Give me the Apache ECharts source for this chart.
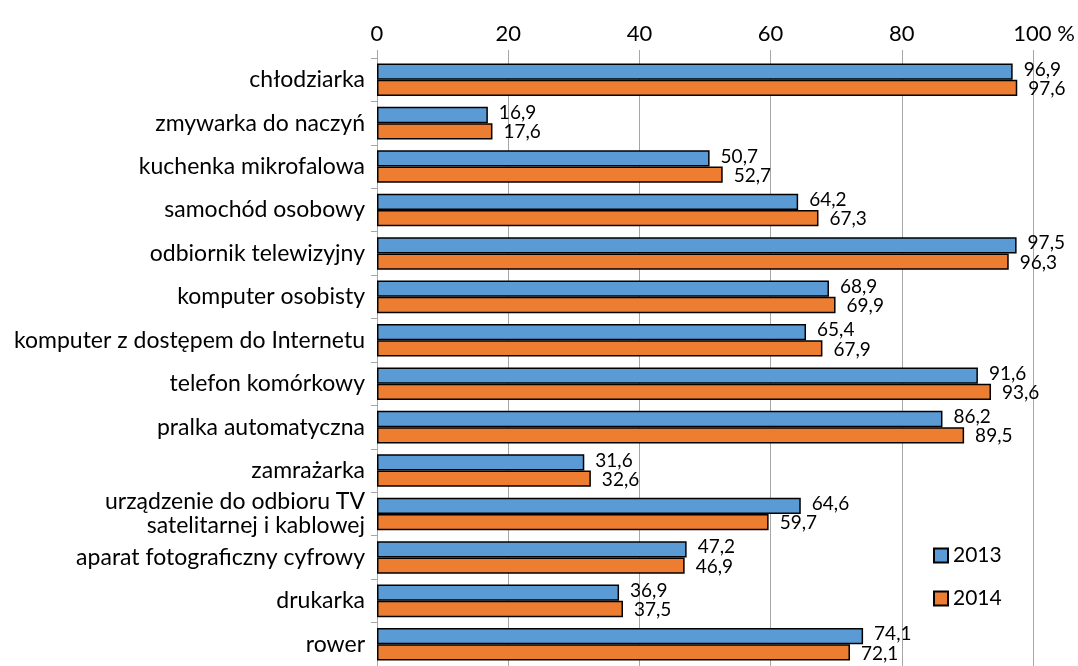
<!DOCTYPE html>
<html>
<head>
<meta charset="utf-8">
<script src="https://cdn.jsdelivr.net/npm/echarts@6/dist/echarts.min.js"></script>
<style>
	html, body {margin:0; padding:0; background:#fff;}
	#chart {width:1078px; height:666px;}
</style>
</head>
<body>
<div id="chart"></div>
<script>
// data
var categories = [
	'chłodziarka',
	'zmywarka do naczyń',
	'kuchenka mikrofalowa',
	'samochód osobowy',
	'odbiornik telewizyjny',
	'komputer osobisty',
	'komputer z dostępem do Internetu',
	'telefon komórkowy',
	'pralka automatyczna',
	'zamrażarka',
	'urządzenie do odbioru TV\nsatelitarnej i kablowej',
	'aparat fotograficzny cyfrowy',
	'drukarka',
	'rower'
];
var values2013 = [96.9, 16.9, 50.7, 64.2, 97.5, 68.9, 65.4, 91.6, 86.2, 31.6, 64.6, 47.2, 36.9, 74.1];
var values2014 = [97.6, 17.6, 52.7, 67.3, 96.3, 69.9, 67.9, 93.6, 89.5, 32.6, 59.7, 46.9, 37.5, 72.1];
var xTicks = [0, 20, 40, 60, 80, 100];

var font = 'Lato';
var fmt = function(p){ return p.value.toFixed(1).replace('.', ','); };

var chart = echarts.init(document.getElementById('chart'));

var barSeries = function(name, data, color, dy){
	return {
		name: name,
		type: 'bar',
		data: data,
		barGap: '0%',
		barCategoryGap: '25%',
		itemStyle: {color: color, borderColor: '#000', borderWidth: 1.5},
		label: {
			show: true,
			position: 'right',
			distance: 11,
			offset: [0, dy],
			color: '#000',
			fontFamily: font,
			fontSize: 19,
			formatter: fmt
		}
	};
};

var option = {
	animation: false,
	textStyle: {fontFamily: font},
	grid: {left: 377, top: 58, width: 656, height: 614, containLabel: false},
	legend: {
		orient: 'vertical',
		left: 928,
		top: 540,
		itemWidth: 14,
		itemHeight: 14,
		itemGap: 22,
		icon: 'rect',
		textStyle: {fontFamily: font, fontSize: 21, color: '#000'},
		data: ['2013', '2014']
	},
	xAxis: {
		type: 'value',
		position: 'top',
		min: 0,
		max: 100,
		interval: 20,
		axisLine: {show: false},
		axisTick: {show: true, length: 8, lineStyle: {color: '#a6a6a6'}},
		splitLine: {show: true, lineStyle: {color: '#a6a6a6', width: 1}},
		axisLabel: {
			margin: 13,
			fontFamily: font,
			fontSize: 22,
			color: '#000',
			formatter: function(v){
				return v === 100 ? '{p|100 %}' : String(v);
			},
			rich: {p: {fontFamily: font, fontSize: 22, color: '#000', padding: [0, 0, 0, 22]}}
		}
	},
	yAxis: {
		type: 'category',
		inverse: true,
		data: categories,
		axisLine: {show: true, lineStyle: {color: '#a6a6a6'}},
		axisTick: {show: true, length: 6, lineStyle: {color: '#a6a6a6'}},
		axisLabel: {
			margin: 12,
			fontFamily: font,
			fontSize: 23,
			color: '#000',
			lineHeight: 24
		}
	},
	series: [
		barSeries('2013', values2013, '#5B9BD5', -2),
		barSeries('2014', values2014, '#ED7D31', 1)
	]
};
chart.setOption(option);
</script>
</body>
</html>
